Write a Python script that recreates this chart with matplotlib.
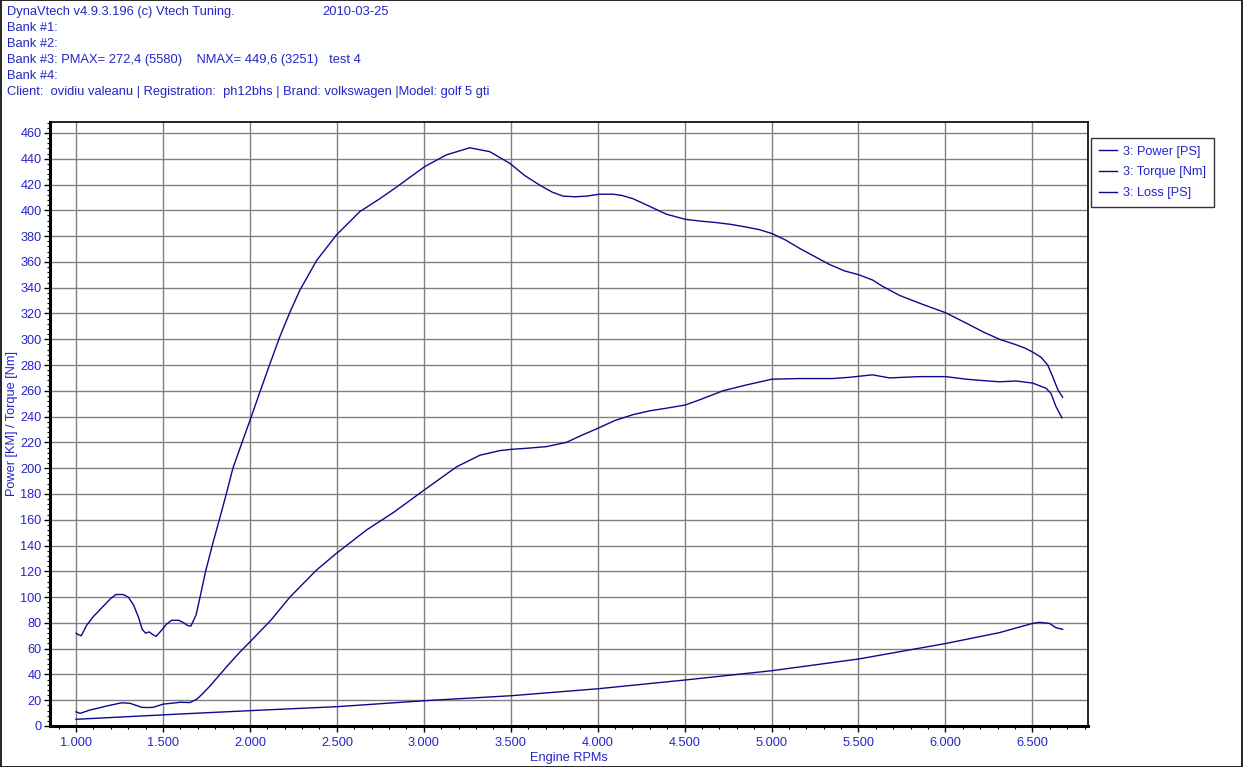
import matplotlib
matplotlib.use("Agg")
import matplotlib.pyplot as plt
from matplotlib.ticker import MultipleLocator, FuncFormatter
from matplotlib.lines import Line2D
from matplotlib.patches import Rectangle

plt.rcParams['font.family'] = ['Liberation Sans', 'DejaVu Sans']

# ---- data ----
torque_rpm = [1000, 1010, 1030, 1060, 1100, 1150, 1200, 1230, 1270, 1300, 1330, 1360, 1380,
              1400, 1420, 1440, 1460, 1490, 1520, 1550, 1590, 1620, 1640, 1660, 1690, 1713,
              1745, 1789, 1828, 1866, 1902, 1960, 2000, 2057, 2115, 2172, 2230, 2287,
              2383, 2498, 2632, 2747, 2843, 3006, 3130, 3264, 3379, 3494, 3580, 3667, 3740,
              3801, 3870, 3935, 4011, 4088, 4140, 4203, 4300, 4395, 4504, 4600, 4682, 4770,
              4854, 4930, 5002, 5080, 5161, 5250, 5333, 5420, 5502, 5580, 5639, 5736, 5850,
              6002, 6119, 6220, 6310, 6400, 6460, 6502, 6550, 6588, 6617, 6646, 6674]
torque_val = [72, 71, 70, 78, 85, 92, 99, 102, 102, 100, 94, 84, 75,
              72, 73, 71, 69.5, 74, 79, 82, 82, 80, 78, 77.5, 86, 100,
              120, 143, 162, 181, 200, 222, 237, 259, 281, 302, 321, 338,
              361, 381, 399, 409, 418, 434, 443, 448.5, 445.5, 436.5, 427, 419.5, 414,
              411, 410.5, 411, 412.5, 412.5, 411.5, 409, 403, 397, 393, 391.5, 390.5, 389,
              387, 385, 382, 377, 370.5, 364, 358, 353, 350, 346, 341, 334, 328,
              320.5, 312.5, 305.5, 300, 296, 293, 290, 286, 280, 271, 261, 255]

power_rpm = [1000, 1023, 1080, 1130, 1176, 1262, 1310, 1345, 1377, 1410, 1444, 1502, 1560,
             1598, 1655, 1693, 1720, 1770, 1866, 1943, 2001, 2120, 2230, 2383, 2498,
             2670, 2824, 3002, 3188, 3322, 3437, 3504, 3600, 3705, 3820, 3900, 4002, 4100,
             4203, 4300, 4395, 4504, 4586, 4720, 4854, 5002, 5161, 5352, 5450, 5580, 5678,
             5760, 5851, 6002, 6119, 6210, 6310, 6406, 6502, 6578, 6607, 6635, 6670]
power_val = [11, 9.8, 12.4, 14, 15.5, 18, 17.6, 16, 14.5, 14.3, 14.5, 17, 17.8,
             18.4, 18.2, 20.7, 24, 31, 46, 57.5, 65.4, 82, 100, 121, 134,
             152, 165.5, 183, 201, 210, 213.6, 214.6, 215.5, 216.7, 220, 225, 231, 237,
             241.5, 244.5, 246.5, 249, 253, 260, 264.5, 269, 269.5, 269.5, 270.5, 272.4, 270,
             270.5, 271, 271, 269, 268, 267, 267.6, 266, 262, 258, 248, 239]

loss_rpm = [1000, 1598, 2001, 2502, 3002, 3504, 4002, 4504, 5002, 5502, 6002, 6310,
            6502, 6540, 6598, 6635, 6674]
loss_val = [5.2, 9.3, 11.9, 15.0, 19.6, 23.5, 28.9, 35.7, 42.9, 52.0, 64.0, 72.4,
            79.6, 80.4, 79.6, 76.3, 75.0]

series_labels = ["3: Power [PS]", "3: Torque [Nm]", "3: Loss [PS]"]

header_lines = [
    "DynaVtech v4.9.3.196 (c) Vtech Tuning.",
    "Bank #1:",
    "Bank #2:",
    "Bank #3: PMAX= 272,4 (5580)    NMAX= 449,6 (3251)   test 4",
    "Bank #4:",
    "Client:  ovidiu valeanu | Registration:  ph12bhs | Brand: volkswagen |Model: golf 5 gti",
]
header_date = "2010-03-25"

# ---- styling ----
W, H = 1243, 767
LINE = '#0a0a8c'
TXT = '#2424c8'
GRID = '#808080'

fig = plt.figure(figsize=(W / 100, H / 100), dpi=100)
fig.patch.set_facecolor('white')
fig.patches.append(Rectangle((0.0005, 0.0005), 0.999, 0.999, transform=fig.transFigure,
                             fill=False, edgecolor='black', linewidth=1.2))

ax = fig.add_axes([50 / W, 1 - 726 / H, (1088 - 50) / W, (726 - 122) / H])

ax.plot(power_rpm, power_val, color=LINE, lw=1.0)
ax.plot(torque_rpm, torque_val, color=LINE, lw=1.0)
ax.plot(loss_rpm, loss_val, color=LINE, lw=1.0)

ax.set_xlim(850, 6820)
ax.set_ylim(0, 468.5)
ax.xaxis.set_major_locator(MultipleLocator(500))
ax.xaxis.set_minor_locator(MultipleLocator(100))
ax.yaxis.set_major_locator(MultipleLocator(20))
ax.yaxis.set_minor_locator(MultipleLocator(4))
ax.xaxis.set_major_formatter(FuncFormatter(lambda v, p: f"{v/1000:.3f}"))
ax.yaxis.set_major_formatter(FuncFormatter(lambda v, p: f"{int(v)}"))

ax.grid(True, which='major', color=GRID, lw=1.0)
ax.set_axisbelow(True)
ax.tick_params(which='major', direction='out', length=4, width=1, color='black',
               labelcolor=TXT, labelsize=9.2, pad=2)
ax.tick_params(axis='x', which='major', pad=4)
ax.tick_params(which='minor', direction='out', length=2, width=0.8, color='black')
for s in ('left', 'bottom'):
    ax.spines[s].set_linewidth(2.2)
for s in ('top', 'right'):
    ax.spines[s].set_linewidth(1.2)

ax.set_xlabel("Engine RPMs", color=TXT, fontsize=9.2, labelpad=2)
ax.set_ylabel("Power [KM] / Torque [Nm]", color=TXT, fontsize=9.2, labelpad=2)

# header
for i, line in enumerate(header_lines):
    fig.text(7 / W, 1 - (12 + 16 * i) / H, line, color=TXT, fontsize=9.3, va='center', ha='left')
fig.text(322 / W, 1 - 12 / H, header_date, color=TXT, fontsize=9.3, va='center', ha='left')

# legend
handles = [Line2D([], [], color=LINE, lw=1.0) for _ in series_labels]
leg = fig.legend(handles, series_labels, loc='upper left',
                 bbox_to_anchor=(1091 / W, 1 - 138 / H), frameon=True, fancybox=False,
                 edgecolor='black', fontsize=9.2, labelcolor=TXT, handlelength=1.4,
                 handletextpad=0.5, borderpad=0.6, labelspacing=0.68, borderaxespad=0)
leg.get_frame().set_linewidth(1.0)

fig.savefig("out.png", dpi=100, facecolor='white')
